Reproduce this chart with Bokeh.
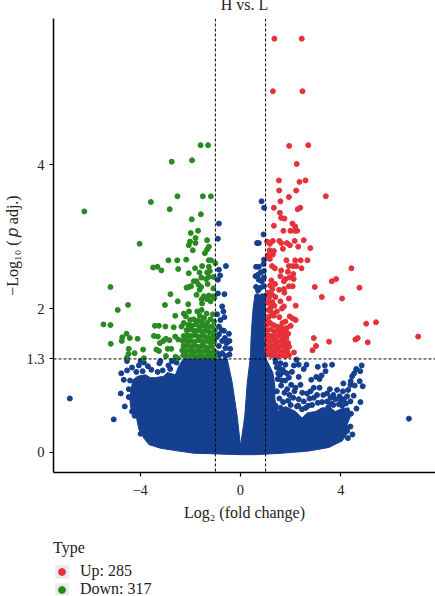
from bokeh.plotting import figure
from bokeh.layouts import column
from bokeh.models import Range1d, Span, FixedTicker, Legend, LegendItem
from bokeh.embed import file_html
from bokeh.resources import INLINE

title_text = "H vs. L"
x_label = "Log\u2082 (fold change)"
y_label = "\u2212Log\u2081\u2080 (\u2009\U0001D45D\u2005adj.)"
x_ticks = [-4, 0, 4]
y_ticks = [0, 1.3, 2, 4]
legend_title = "Type"
legend_labels = ["Up: 285", "Down: 317"]
thresholds_x = [-1, 1]
threshold_y = 1.3

up_points = [
(1.35,5.75),(2.44,5.75),(1.29,5.02),(2.47,5.02),(1.94,4.26),(2.70,4.27),(2.24,4.01),
(1.53,3.78),(2.35,3.76),(2.59,3.78),(1.54,3.64),(2.22,3.64),(1.93,3.55),(3.40,3.56),(1.59,3.49),
(1.33,3.40),(2.38,3.40),(2.28,3.38),(1.57,3.33),(1.62,3.26),(1.75,3.25),(2.07,3.18),(1.33,3.15),
(2.18,3.14),(1.71,3.08),(1.99,3.08),(2.16,3.08),(2.26,3.08),(1.06,2.93),(1.29,2.94),(1.17,2.90),
(1.55,2.94),(1.62,2.91),(1.85,2.91),(1.97,2.88),(2.16,2.94),(2.52,2.95),(2.30,2.86),(2.78,2.84),
(1.69,2.83),(1.16,2.81),(1.33,2.80),(1.29,2.75),(1.09,2.74),(1.17,2.69),(1.83,2.67),(2.18,2.67),
(2.40,2.67),(2.67,2.67),(1.26,2.59),(1.37,2.56),(1.93,2.59),(2.09,2.59),(2.22,2.59),(2.43,2.56),
(4.42,2.56),(1.62,2.53),(1.89,2.51),(1.59,2.45),(2.10,2.48),(1.95,2.43),(1.79,2.41),(2.12,2.41),
(1.23,2.39),(1.73,2.38),(3.81,2.41),(3.64,2.38),(4.74,2.29),(2.96,2.30),(1.93,2.31),(2.08,2.31),
(1.38,2.34),(1.18,2.32),(1.54,2.26),(1.73,2.27),(1.75,2.22),(1.27,2.27),(1.11,2.22),(3.24,2.16),
(4.05,2.14),(1.93,2.14),(1.26,2.19),(1.39,2.16),(1.13,2.15),(1.59,2.10),(1.27,2.09),(1.09,2.08),
(1.35,2.04),(1.73,2.03),(1.65,2.00),(2.20,2.04),(1.19,1.98),(1.27,1.93),(1.14,1.89),(1.33,1.90),
(1.55,1.88),(1.96,1.89),(2.20,1.84),(2.09,1.86),(1.79,1.82),(1.67,1.80),(5.01,1.79),(5.40,1.81),
(7.08,1.61),(2.00,1.76),(2.92,1.59),(4.67,1.59),(3.53,1.54),(5.07,1.53),(3.01,1.48),(2.87,1.42),
(2.13,1.39),(1.93,1.35),(1.21,2.02),(1.12,1.98),(1.45,1.96),(1.08,1.84),(4.58,1.57),
(1.06,1.78),(1.18,1.80),(1.31,1.77),(1.45,1.75),(1.58,1.74),(1.72,1.72),(1.85,1.73),
(1.08,1.70),(1.22,1.71),(1.37,1.68),(1.50,1.69),(1.63,1.66),(1.78,1.67),(1.90,1.65),
(1.10,1.63),(1.25,1.62),(1.41,1.61),(1.55,1.62),(1.69,1.60),(1.83,1.59),(1.06,1.57),
(1.19,1.55),(1.33,1.56),(1.47,1.54),(1.62,1.55),(1.76,1.53),(1.90,1.52),(1.09,1.49),
(1.24,1.48),(1.38,1.49),(1.53,1.47),(1.68,1.48),(1.82,1.46),(1.94,1.47),(1.06,1.43),
(1.18,1.42),(1.32,1.41),(1.46,1.42),(1.60,1.40),(1.74,1.41),(1.87,1.40),(1.09,1.36),
(1.23,1.35),(1.37,1.36),(1.51,1.34),(1.65,1.35),(1.79,1.34),
]

down_points = [
(-1.59,4.27),(-1.29,4.27),(-2.74,4.04),(-1.93,4.06),
(-6.22,3.35),(-3.57,3.48),(-2.51,3.56),(-1.50,3.56),(-1.18,3.56),(-2.82,3.38),(-1.58,3.31),(-1.94,3.24),
(-1.69,3.08),(-1.98,3.05),(-1.79,2.98),(-1.33,2.95),(-2.01,2.93),(-1.79,2.91),(-2.06,2.88),(-4.02,2.90),
(-1.26,2.86),(-1.90,2.81),(-1.33,2.82),(-1.42,2.77),(-2.87,2.67),(-2.52,2.67),(-2.16,2.68),(-1.26,2.67),
(-1.17,2.67),(-3.48,2.57),(-3.31,2.58),(-3.15,2.53),(-2.48,2.55),(-1.81,2.56),(-1.53,2.59),(-1.26,2.58),
(-1.00,2.63),(-2.06,2.49),(-1.63,2.50),(-1.33,2.50),(-1.22,2.52),(-5.18,2.30),(-4.89,1.98),(-4.48,2.05),(-2.79,2.20),
(-2.50,2.10),(-3.01,2.05),(-2.08,2.06),(-2.06,2.30),(-2.15,2.29),(-1.97,2.31),(-1.75,2.38),(-1.86,2.38),
(-1.67,2.33),(-1.56,2.43),(-1.37,2.41),(-1.26,2.44),(-1.07,2.44),(-1.31,2.34),(-1.57,2.30),(-1.63,2.26),
(-1.08,2.28),(-1.75,2.19),(-1.46,2.17),(-1.26,2.18),(-1.08,2.17),(-1.55,2.13),(-1.33,2.13),(-1.53,2.07),
(-1.19,2.10),(-1.04,2.15),(-5.46,1.78),(-5.18,1.77),(-2.60,1.90),(-2.26,1.93),(-2.05,1.96),(-2.18,1.89),
(-3.41,1.76),(-3.25,1.76),(-2.99,1.75),(-2.66,1.74),(-2.35,1.75),(-2.26,1.80),(-4.54,1.65),(-4.71,1.60),
(-4.73,1.55),(-4.41,1.59),(-4.10,1.58),(-5.17,1.51),(-3.45,1.62),(-3.29,1.61),(-2.97,1.58),(-3.08,1.55),
(-3.21,1.52),(-2.83,1.56),(-2.60,1.61),(-2.48,1.57),(-4.45,1.44),(-3.88,1.43),(-4.22,1.38),(-4.46,1.37),
(-4.52,1.32),(-3.85,1.31),(-3.35,1.43),(-3.25,1.41),(-2.90,1.44),(-2.76,1.44),(-2.97,1.34),(-2.59,1.33),
(-2.50,1.31),(-1.72,1.96),(-1.55,1.98),(-1.35,1.93),(-1.10,1.92),(-1.62,1.90),(-1.45,1.87),(-1.20,1.85),
(-1.05,1.82),(-2.00,1.84),(-1.87,1.85),(-1.70,1.83),(-1.55,1.82),(-1.33,1.80),
(-2.08,1.77),(-1.93,1.76),(-1.78,1.78),(-1.62,1.75),(-1.47,1.76),(-1.30,1.73),(-1.14,1.75),(-1.02,1.70),
(-2.15,1.70),(-2.00,1.71),(-1.85,1.69),(-1.69,1.70),(-1.53,1.68),(-1.38,1.69),(-1.22,1.67),(-1.06,1.63),
(-2.26,1.62),(-2.10,1.63),(-1.95,1.62),(-1.78,1.63),(-1.62,1.61),(-1.46,1.62),(-1.30,1.60),(-1.14,1.59),
(-2.30,1.55),(-2.15,1.56),(-2.00,1.55),(-1.84,1.54),(-1.68,1.56),(-1.52,1.54),(-1.36,1.55),(-1.20,1.53),(-1.04,1.54),
(-2.27,1.48),(-2.12,1.49),(-1.95,1.47),(-1.79,1.48),(-1.63,1.47),(-1.47,1.48),(-1.30,1.46),(-1.14,1.47),
(-2.32,1.42),(-2.17,1.41),(-2.01,1.42),(-1.85,1.40),(-1.69,1.41),(-1.53,1.40),(-1.37,1.41),(-1.21,1.39),(-1.05,1.41),
(-2.28,1.35),(-2.12,1.34),(-1.96,1.35),(-1.80,1.33),(-1.64,1.34),(-1.48,1.33),(-1.32,1.34),(-1.16,1.33),(-1.02,1.34),
]

ns_points = [
(0.84,3.49),(0.94,3.40),(-0.86,3.18),(-0.90,2.97),(0.92,3.03),(0.66,2.91),(0.73,2.91),(0.94,2.68),(0.92,2.62),
(0.62,2.58),(0.73,2.58),(-0.58,2.59),(-0.86,2.54),(-0.81,2.46),(-0.90,2.40),(-0.90,2.21),(-0.64,2.20),
(-0.73,2.03),(-0.68,1.96),(-0.64,1.88),(-0.80,1.84),(-0.93,1.92),(-0.86,1.75),(-0.66,1.69),(-0.46,1.65),
(-0.86,1.64),(-0.62,1.59),(-0.73,1.55),(-0.44,1.55),(-0.86,1.48),(-0.60,1.45),(-0.41,1.44),(-0.73,1.38),
(-0.44,1.36),(-0.93,1.38),(-0.60,1.34),(-0.75,1.70),(-0.95,1.60),(-0.55,1.52),(-0.85,1.35),
(0.60,2.45),(0.80,2.50),(0.93,2.52),(0.73,2.40),(0.93,2.43),(0.62,2.30),(0.80,2.29),(0.93,2.31),
(0.66,2.17),(0.86,2.17),(1.00,2.18),(0.70,2.47),(0.85,2.38),(0.70,2.25),
(-4.52,1.27),(-3.98,1.27),(-3.85,1.25),(-3.69,1.20),(-4.05,1.21),(-4.32,1.18),(-4.52,1.14),(-4.75,1.10),
(-4.65,1.01),(-3.23,1.24),(-3.19,1.27),(-2.87,1.21),(-2.73,1.27),(-2.55,1.25),(-6.80,0.75),(-5.05,0.46),(-4.77,0.82),
(-4.61,0.64),(-4.45,0.77),(-4.32,0.57),(-4.22,0.51),(-3.98,0.26),(-4.45,0.88),(-4.40,1.00),(-3.30,1.12),(-3.55,1.15),
(-3.90,1.13),(-4.15,1.12),(-2.80,1.16),(-3.10,1.14),
(1.39,1.29),(1.59,1.24),(1.79,1.22),(2.23,1.29),(2.13,1.21),(2.32,1.22),(2.63,1.22),(2.52,1.16),(3.08,1.19),
(3.36,1.21),(3.65,1.22),(4.83,1.21),(4.61,1.16),(4.77,1.13),(4.53,1.10),(4.45,1.06),(3.39,1.13),(3.23,1.07),
(3.02,1.05),(2.32,1.05),(2.82,1.01),(3.15,1.02),(4.39,0.99),(4.75,0.99),(4.10,0.96),(4.38,0.94),(4.55,0.93),
(4.87,0.92),(4.29,0.87),(4.08,0.85),(3.85,0.87),(3.56,0.88),(2.92,0.90),(2.79,0.85),(2.39,0.94),(2.46,0.83),
(2.19,0.90),(1.93,1.04),(1.72,1.12),(1.55,1.17),(4.51,0.79),(3.59,0.76),(2.92,0.76),(2.32,0.74),(2.52,0.71),
(4.38,0.71),(4.78,0.70),(4.12,0.74),(3.78,0.74),(3.45,0.71),(3.08,0.69),(3.25,0.70),(4.62,0.61),(4.40,0.54),
(6.71,0.47),(4.38,0.36),(4.46,0.25),(4.28,0.20),(4.25,0.30),
(1.48,1.02),(1.58,1.08),(1.45,1.18),(1.62,0.93),(1.75,0.83),(1.90,0.72),(2.10,0.76),(2.02,0.94),(1.78,1.00),
(1.86,0.88),(2.65,0.82),(3.30,0.80),(3.62,0.68),(3.92,0.67),(4.20,0.68),(3.70,0.66),(2.00,0.66),(2.25,0.64),
(2.60,0.62),(2.85,0.66),(3.95,0.78),(4.25,0.78),
(1.45,0.85),(1.55,0.75),(1.70,0.70),(1.65,1.00),(1.85,1.10),(2.05,1.12),(1.95,0.80),(2.15,0.85),(2.30,0.65),
(2.45,0.60),(2.70,0.65),(2.75,0.75),(3.05,0.80),(3.15,0.90),(3.45,0.82),(3.70,0.80),(4.00,0.72),(4.05,0.65),
(3.50,0.63),(1.40,0.65),(1.60,0.62),(1.50,1.10),(1.68,1.15),(1.40,1.25),
]

ns_region_x = [0,-0.93,-1.86,-2.66,-3.19,-3.65,-3.85,-4.05,-4.14,-4.36,-4.41,-4.36,-4.28,-4.09,-3.78,-3.59,-3.39,
               -3.05,-2.92,-2.59,-2.46,-2.28,-0.53,-0.33,-0.13,0,0.17,0.27,0.40,0.42,0.46,0.50,0.57,1.00,1.02,1.29,
               1.37,1.37,1.50,1.79,2.19,2.46,2.66,2.99,3.25,3.59,3.78,4.05,4.32,4.38,4.25,4.32,4.05,3.52,2.72,1.66,0.60]
ns_region_y = [-0.03,-0.02,-0.01,0.03,0.06,0.11,0.20,0.32,0.48,0.60,0.74,0.88,1.01,1.06,1.08,1.04,1.04,
               1.06,1.11,1.08,1.20,1.30,1.30,0.97,0.50,0.09,0.50,0.97,1.34,1.57,1.80,1.99,2.17,2.20,1.30,1.11,
               0.92,0.74,0.57,0.64,0.57,0.48,0.55,0.57,0.62,0.62,0.57,0.61,0.62,0.50,0.39,0.30,0.16,0.07,0.02,-0.01,-0.03]

RED, GREEN, BLUE, KEY = "#E5323A", "#2A8A22", "#153F8F", "#EBEBEB"
FONT = "Liberation Serif"
INK = "#222222"

p = figure(frame_width=382, frame_height=454, output_backend="svg", toolbar_location=None,
           x_range=Range1d(-7.45, 7.77), y_range=Range1d(-0.278, 6.03),
           min_border_left=53, min_border_right=0, min_border_top=19, min_border_bottom=67,
           margin=(-12, 0, 0, 0), outline_line_color=None, title=title_text)
p.grid.visible = False
p.title.align = "center"
p.title.text_font = FONT
p.title.text_font_size = "16px"
p.title.text_font_style = "normal"
p.title.text_color = INK
p.title.standoff = 11

p.patch(ns_region_x, ns_region_y, fill_color=BLUE, line_color=BLUE)
def xy(points):
    return [a for a, _ in points], [b for _, b in points]
nx, ny = xy(ns_points)
ux, uy = xy(up_points)
dx, dy = xy(down_points)
p.scatter(nx, ny, size=5, color=BLUE)
p.scatter(dx, dy, size=5, color=GREEN)
p.scatter(ux, uy, size=5, color=RED)

for v in thresholds_x:
    p.add_layout(Span(location=v, dimension="height", line_color="black", line_width=1, line_dash="3 2"))
p.add_layout(Span(location=threshold_y, dimension="width", line_color="black", line_width=1, line_dash="3 2"))

for ax, ticks in ((p.xaxis[0], x_ticks), (p.yaxis[0], y_ticks)):
    ax.ticker = FixedTicker(ticks=ticks)
    ax.axis_line_color = "black"
    ax.axis_line_width = 1.5
    ax.major_tick_line_color = "black"
    ax.major_tick_line_width = 1.2
    ax.major_tick_out = 4
    ax.major_tick_in = 0
    ax.minor_tick_line_color = None
    ax.major_label_text_font = FONT
    ax.major_label_text_font_size = "14.5px"
    ax.major_label_text_color = INK
    ax.major_label_standoff = 5
    ax.axis_label_text_font = FONT
    ax.axis_label_text_font_size = "16px"
    ax.axis_label_text_font_style = "normal"
    ax.axis_label_text_color = INK
    ax.axis_label_standoff = 2
p.xaxis[0].major_label_standoff = 8
p.xaxis[0].axis_label_standoff = 6
p.xaxis[0].axis_label = x_label
p.yaxis[0].axis_label = y_label
p.xaxis[0].major_label_overrides = {-4: "\u22124", 0: "0", 4: "4"}
p.yaxis[0].major_label_overrides = {0: "0", 1.3: "1.3", 2: "2", 4: "4"}

# legend strip under the plot; its key renderers lie outside the strip's range, only their legend glyphs show
q = figure(width=435, height=56, output_backend="svg", toolbar_location=None,
           x_axis_type=None, y_axis_type=None, x_range=Range1d(0, 1), y_range=Range1d(0, 1),
           min_border_left=53, min_border_right=0, min_border_top=0, min_border_bottom=0,
           outline_line_color=None, margin=0)
q.grid.visible = False
key = q.quad(left=[5], right=[6], top=[6], bottom=[5], fill_color=KEY, line_color=None)
up_key = q.scatter(x=[5], y=[5], color=RED)
down_key = q.scatter(x=[5], y=[5], color=GREEN)
leg = Legend(items=[LegendItem(label=legend_labels[0], renderers=[key, up_key]),
                    LegendItem(label=legend_labels[1], renderers=[key, down_key])],
             location="top_left", title=legend_title, title_text_font=FONT, title_text_font_size="16px",
             title_text_font_style="normal", title_text_color=INK, title_standoff=5,
             label_text_font=FONT, label_text_font_size="16px", label_text_color=INK,
             glyph_width=17, glyph_height=17, label_standoff=10, spacing=0, padding=0, margin=0,
             label_height=17, background_fill_alpha=0, border_line_color=None)
q.add_layout(leg, "center")

page = column(p, q, spacing=0)
open("out.html", "w").write(file_html(page, INLINE))
